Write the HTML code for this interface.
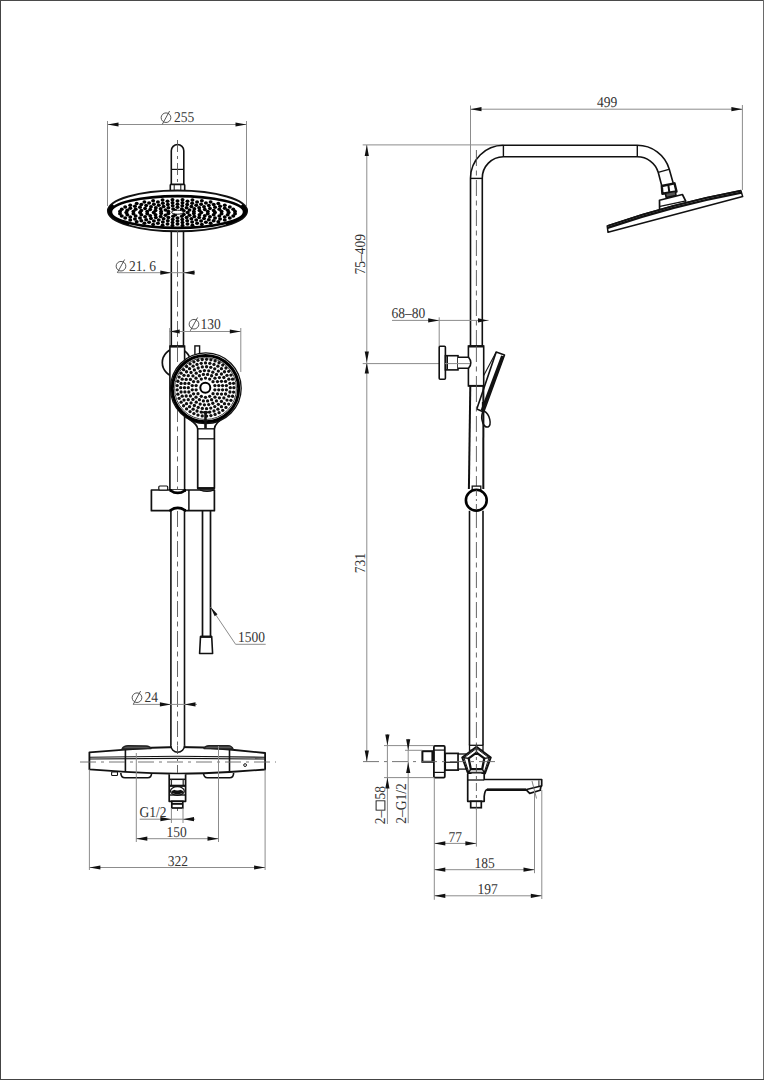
<!DOCTYPE html>
<html><head><meta charset="utf-8"><style>
html,body{margin:0;padding:0;background:#fff;}
body{width:764px;height:1080px;overflow:hidden;}
svg{display:block;}
text{font-family:"Liberation Serif",serif;fill:#333;text-rendering:geometricPrecision;}
</style></head><body>
<svg width="764" height="1080" viewBox="0 0 764 1080">
<rect x="0" y="0" width="1" height="1080" fill="#444"/><rect x="0" y="0" width="764" height="1" fill="#4a4a4a"/><rect x="763" y="0" width="1" height="1080" fill="#6a6a6a"/><rect x="0" y="1079" width="764" height="1" fill="#444"/>
<line x1="107.5" y1="121" x2="107.5" y2="206" stroke="#8c8c8c" stroke-width="1.0" />
<line x1="246.5" y1="121" x2="246.5" y2="206" stroke="#8c8c8c" stroke-width="1.0" />
<line x1="107.5" y1="124.5" x2="246.5" y2="124.5" stroke="#8c8c8c" stroke-width="1.0" />
<path d="M107.50,124.50 L118.50,122.40 L118.50,126.60 Z" fill="#111"/>
<path d="M246.50,124.50 L235.50,126.60 L235.50,122.40 Z" fill="#111"/>
<ellipse cx="166.00" cy="117.70" rx="4.85" ry="4.8" stroke="#444" stroke-width="0.9" fill="none"/>
<line x1="162.3" y1="124.3" x2="169.6" y2="111" stroke="#444" stroke-width="0.9" />
<text x="0" y="0" font-size="15.0" text-anchor="start" transform="translate(174 122) scale(0.9 1)">255</text>
<path d="M171.3,184.4 L171.3,150.8 A6.25,6.25 0 0 1 183.8,150.8 L183.8,184.4" stroke="#111" stroke-width="1.6" fill="none" stroke-linejoin="round" />
<line x1="171.3" y1="169.4" x2="183.8" y2="169.4" stroke="#111" stroke-width="1.2" />
<rect x="170.3" y="184.4" width="14.4" height="6.3" stroke="#111" stroke-width="1.6" fill="none" rx="0.8"/>
<line x1="174.2" y1="184.6" x2="174.2" y2="190.5" stroke="#111" stroke-width="1.0" />
<line x1="180.8" y1="184.6" x2="180.8" y2="190.5" stroke="#111" stroke-width="1.0" />
<line x1="177.5" y1="140" x2="177.5" y2="184" stroke="#555" stroke-width="0.9" stroke-dasharray="12 4 3 4"/>
<ellipse cx="177.5" cy="210.9" rx="69.6" ry="20.4" stroke="#111" stroke-width="1.9" fill="#fff"/>
<path d="M128.43,225.18 L125.72,224.35 L123.19,223.47 L120.83,222.56 L118.65,221.60 L116.66,220.62 L114.86,219.60 L113.27,218.55 L111.88,217.48 L110.71,216.38 L109.75,215.27 L109.00,214.15 L108.48,213.01 L108.18,211.87 L108.10,210.72 L108.25,209.58 L108.62,208.44 L109.21,207.31 L110.02,206.18 L111.04,205.08 L112.29,203.99 L114.92,206.56 L113.73,207.42 L112.74,208.29 L111.96,209.17 L111.40,210.06 L111.04,210.96 L110.90,211.86 L110.98,212.76 L111.26,213.66 L111.77,214.56 L112.48,215.44 L113.40,216.32 L114.53,217.18 L115.86,218.02 L117.39,218.85 L119.11,219.65 L121.02,220.43 L123.11,221.18 L125.38,221.90 L127.81,222.59 L130.41,223.24 Z" fill="#000"/>
<path d="M242.71,203.99 L243.96,205.08 L244.98,206.18 L245.79,207.31 L246.38,208.44 L246.75,209.58 L246.90,210.72 L246.82,211.87 L246.52,213.01 L246.00,214.15 L245.25,215.27 L244.29,216.38 L243.12,217.48 L241.73,218.55 L240.14,219.60 L238.34,220.62 L236.35,221.60 L234.17,222.56 L231.81,223.47 L229.28,224.35 L226.57,225.18 L224.59,223.24 L227.19,222.59 L229.62,221.90 L231.89,221.18 L233.98,220.43 L235.89,219.65 L237.61,218.85 L239.14,218.02 L240.47,217.18 L241.60,216.32 L242.52,215.44 L243.23,214.56 L243.74,213.66 L244.02,212.76 L244.10,211.86 L243.96,210.96 L243.60,210.06 L243.04,209.17 L242.26,208.29 L241.27,207.42 L240.08,206.56 Z" fill="#000"/>
<ellipse cx="177.5" cy="212" rx="66.6" ry="15.9" stroke="#000" stroke-width="2.6" fill="#fff"/>
<g fill="#000"><ellipse cx="187.62" cy="212.60" rx="2.0" ry="1.75"/><ellipse cx="183.81" cy="214.38" rx="2.0" ry="1.75"/><ellipse cx="175.25" cy="214.82" rx="2.0" ry="1.75"/><ellipse cx="168.39" cy="213.59" rx="2.0" ry="1.75"/><ellipse cx="168.39" cy="211.61" rx="2.0" ry="1.75"/><ellipse cx="175.25" cy="210.38" rx="2.0" ry="1.75"/><ellipse cx="183.81" cy="210.82" rx="2.0" ry="1.75"/><ellipse cx="193.88" cy="213.59" rx="2.0" ry="1.75"/><ellipse cx="189.49" cy="215.30" rx="2.0" ry="1.75"/><ellipse cx="181.89" cy="216.29" rx="2.0" ry="1.75"/><ellipse cx="173.11" cy="216.29" rx="2.0" ry="1.75"/><ellipse cx="165.51" cy="215.30" rx="2.0" ry="1.75"/><ellipse cx="161.12" cy="213.59" rx="2.0" ry="1.75"/><ellipse cx="161.12" cy="211.61" rx="2.0" ry="1.75"/><ellipse cx="165.51" cy="209.90" rx="2.0" ry="1.75"/><ellipse cx="173.11" cy="208.91" rx="2.0" ry="1.75"/><ellipse cx="181.89" cy="208.91" rx="2.0" ry="1.75"/><ellipse cx="189.49" cy="209.90" rx="2.0" ry="1.75"/><ellipse cx="193.88" cy="211.61" rx="2.0" ry="1.75"/><ellipse cx="201.30" cy="212.60" rx="2.0" ry="1.75"/><ellipse cx="199.49" cy="214.65" rx="2.0" ry="1.75"/><ellipse cx="194.33" cy="216.39" rx="2.0" ry="1.75"/><ellipse cx="186.61" cy="217.55" rx="2.0" ry="1.75"/><ellipse cx="177.50" cy="217.96" rx="2.0" ry="1.75"/><ellipse cx="168.39" cy="217.55" rx="2.0" ry="1.75"/><ellipse cx="160.67" cy="216.39" rx="2.0" ry="1.75"/><ellipse cx="155.51" cy="214.65" rx="2.0" ry="1.75"/><ellipse cx="153.70" cy="212.60" rx="2.0" ry="1.75"/><ellipse cx="155.51" cy="210.55" rx="2.0" ry="1.75"/><ellipse cx="160.67" cy="208.81" rx="2.0" ry="1.75"/><ellipse cx="168.39" cy="207.65" rx="2.0" ry="1.75"/><ellipse cx="177.50" cy="207.24" rx="2.0" ry="1.75"/><ellipse cx="186.61" cy="207.65" rx="2.0" ry="1.75"/><ellipse cx="194.33" cy="208.81" rx="2.0" ry="1.75"/><ellipse cx="199.49" cy="210.55" rx="2.0" ry="1.75"/><ellipse cx="207.77" cy="213.68" rx="2.0" ry="1.75"/><ellipse cx="204.80" cy="215.73" rx="2.0" ry="1.75"/><ellipse cx="199.17" cy="217.48" rx="2.0" ry="1.75"/><ellipse cx="191.41" cy="218.75" rx="2.0" ry="1.75"/><ellipse cx="182.29" cy="219.42" rx="2.0" ry="1.75"/><ellipse cx="172.71" cy="219.42" rx="2.0" ry="1.75"/><ellipse cx="163.59" cy="218.75" rx="2.0" ry="1.75"/><ellipse cx="155.83" cy="217.48" rx="2.0" ry="1.75"/><ellipse cx="150.20" cy="215.73" rx="2.0" ry="1.75"/><ellipse cx="147.23" cy="213.68" rx="2.0" ry="1.75"/><ellipse cx="147.23" cy="211.52" rx="2.0" ry="1.75"/><ellipse cx="150.20" cy="209.47" rx="2.0" ry="1.75"/><ellipse cx="155.83" cy="207.72" rx="2.0" ry="1.75"/><ellipse cx="163.59" cy="206.45" rx="2.0" ry="1.75"/><ellipse cx="172.71" cy="205.78" rx="2.0" ry="1.75"/><ellipse cx="182.29" cy="205.78" rx="2.0" ry="1.75"/><ellipse cx="191.41" cy="206.45" rx="2.0" ry="1.75"/><ellipse cx="199.17" cy="207.72" rx="2.0" ry="1.75"/><ellipse cx="204.80" cy="209.47" rx="2.0" ry="1.75"/><ellipse cx="207.77" cy="211.52" rx="2.0" ry="1.75"/><ellipse cx="214.99" cy="212.60" rx="2.0" ry="1.75"/><ellipse cx="213.71" cy="214.78" rx="2.0" ry="1.75"/><ellipse cx="209.96" cy="216.82" rx="2.0" ry="1.75"/><ellipse cx="204.01" cy="218.57" rx="2.0" ry="1.75"/><ellipse cx="196.24" cy="219.91" rx="2.0" ry="1.75"/><ellipse cx="187.20" cy="220.75" rx="2.0" ry="1.75"/><ellipse cx="177.50" cy="221.04" rx="2.0" ry="1.75"/><ellipse cx="167.80" cy="220.75" rx="2.0" ry="1.75"/><ellipse cx="158.76" cy="219.91" rx="2.0" ry="1.75"/><ellipse cx="150.99" cy="218.57" rx="2.0" ry="1.75"/><ellipse cx="145.04" cy="216.82" rx="2.0" ry="1.75"/><ellipse cx="141.29" cy="214.78" rx="2.0" ry="1.75"/><ellipse cx="140.01" cy="212.60" rx="2.0" ry="1.75"/><ellipse cx="141.29" cy="210.42" rx="2.0" ry="1.75"/><ellipse cx="145.04" cy="208.38" rx="2.0" ry="1.75"/><ellipse cx="150.99" cy="206.63" rx="2.0" ry="1.75"/><ellipse cx="158.76" cy="205.29" rx="2.0" ry="1.75"/><ellipse cx="167.80" cy="204.45" rx="2.0" ry="1.75"/><ellipse cx="177.50" cy="204.16" rx="2.0" ry="1.75"/><ellipse cx="187.20" cy="204.45" rx="2.0" ry="1.75"/><ellipse cx="196.24" cy="205.29" rx="2.0" ry="1.75"/><ellipse cx="204.01" cy="206.63" rx="2.0" ry="1.75"/><ellipse cx="209.96" cy="208.38" rx="2.0" ry="1.75"/><ellipse cx="213.71" cy="210.42" rx="2.0" ry="1.75"/><ellipse cx="221.55" cy="213.72" rx="2.0" ry="1.75"/><ellipse cx="219.34" cy="215.90" rx="2.0" ry="1.75"/><ellipse cx="215.03" cy="217.91" rx="2.0" ry="1.75"/><ellipse cx="208.84" cy="219.66" rx="2.0" ry="1.75"/><ellipse cx="201.08" cy="221.05" rx="2.0" ry="1.75"/><ellipse cx="192.14" cy="222.02" rx="2.0" ry="1.75"/><ellipse cx="182.46" cy="222.52" rx="2.0" ry="1.75"/><ellipse cx="172.54" cy="222.52" rx="2.0" ry="1.75"/><ellipse cx="162.86" cy="222.02" rx="2.0" ry="1.75"/><ellipse cx="153.92" cy="221.05" rx="2.0" ry="1.75"/><ellipse cx="146.16" cy="219.66" rx="2.0" ry="1.75"/><ellipse cx="139.97" cy="217.91" rx="2.0" ry="1.75"/><ellipse cx="135.66" cy="215.90" rx="2.0" ry="1.75"/><ellipse cx="133.45" cy="213.72" rx="2.0" ry="1.75"/><ellipse cx="133.45" cy="211.48" rx="2.0" ry="1.75"/><ellipse cx="135.66" cy="209.30" rx="2.0" ry="1.75"/><ellipse cx="139.97" cy="207.29" rx="2.0" ry="1.75"/><ellipse cx="146.16" cy="205.54" rx="2.0" ry="1.75"/><ellipse cx="153.92" cy="204.15" rx="2.0" ry="1.75"/><ellipse cx="162.86" cy="203.18" rx="2.0" ry="1.75"/><ellipse cx="172.54" cy="202.68" rx="2.0" ry="1.75"/><ellipse cx="182.46" cy="202.68" rx="2.0" ry="1.75"/><ellipse cx="192.14" cy="203.18" rx="2.0" ry="1.75"/><ellipse cx="201.08" cy="204.15" rx="2.0" ry="1.75"/><ellipse cx="208.84" cy="205.54" rx="2.0" ry="1.75"/><ellipse cx="215.03" cy="207.29" rx="2.0" ry="1.75"/><ellipse cx="219.34" cy="209.30" rx="2.0" ry="1.75"/><ellipse cx="221.55" cy="211.48" rx="2.0" ry="1.75"/><ellipse cx="228.67" cy="212.60" rx="2.0" ry="1.75"/><ellipse cx="227.69" cy="214.85" rx="2.0" ry="1.75"/><ellipse cx="224.77" cy="217.01" rx="2.0" ry="1.75"/><ellipse cx="220.05" cy="219.00" rx="2.0" ry="1.75"/><ellipse cx="213.68" cy="220.75" rx="2.0" ry="1.75"/><ellipse cx="205.93" cy="222.18" rx="2.0" ry="1.75"/><ellipse cx="197.08" cy="223.25" rx="2.0" ry="1.75"/><ellipse cx="187.48" cy="223.90" rx="2.0" ry="1.75"/><ellipse cx="177.50" cy="224.12" rx="2.0" ry="1.75"/><ellipse cx="167.52" cy="223.90" rx="2.0" ry="1.75"/><ellipse cx="157.92" cy="223.25" rx="2.0" ry="1.75"/><ellipse cx="149.07" cy="222.18" rx="2.0" ry="1.75"/><ellipse cx="141.32" cy="220.75" rx="2.0" ry="1.75"/><ellipse cx="134.95" cy="219.00" rx="2.0" ry="1.75"/><ellipse cx="130.23" cy="217.01" rx="2.0" ry="1.75"/><ellipse cx="127.31" cy="214.85" rx="2.0" ry="1.75"/><ellipse cx="126.33" cy="212.60" rx="2.0" ry="1.75"/><ellipse cx="127.31" cy="210.35" rx="2.0" ry="1.75"/><ellipse cx="130.23" cy="208.19" rx="2.0" ry="1.75"/><ellipse cx="134.95" cy="206.20" rx="2.0" ry="1.75"/><ellipse cx="141.32" cy="204.45" rx="2.0" ry="1.75"/><ellipse cx="149.07" cy="203.02" rx="2.0" ry="1.75"/><ellipse cx="157.92" cy="201.95" rx="2.0" ry="1.75"/><ellipse cx="167.52" cy="201.30" rx="2.0" ry="1.75"/><ellipse cx="177.50" cy="201.08" rx="2.0" ry="1.75"/><ellipse cx="187.48" cy="201.30" rx="2.0" ry="1.75"/><ellipse cx="197.08" cy="201.95" rx="2.0" ry="1.75"/><ellipse cx="205.93" cy="203.02" rx="2.0" ry="1.75"/><ellipse cx="213.68" cy="204.45" rx="2.0" ry="1.75"/><ellipse cx="220.05" cy="206.20" rx="2.0" ry="1.75"/><ellipse cx="224.77" cy="208.19" rx="2.0" ry="1.75"/><ellipse cx="227.69" cy="210.35" rx="2.0" ry="1.75"/><ellipse cx="235.00" cy="213.73" rx="2.0" ry="1.75"/><ellipse cx="233.25" cy="215.96" rx="2.0" ry="1.75"/><ellipse cx="229.81" cy="218.09" rx="2.0" ry="1.75"/><ellipse cx="224.78" cy="220.06" rx="2.0" ry="1.75"/><ellipse cx="218.31" cy="221.79" rx="2.0" ry="1.75"/><ellipse cx="210.60" cy="223.25" rx="2.0" ry="1.75"/><ellipse cx="201.89" cy="224.38" rx="2.0" ry="1.75"/><ellipse cx="192.44" cy="225.16" rx="2.0" ry="1.75"/><ellipse cx="182.53" cy="225.55" rx="2.0" ry="1.75"/><ellipse cx="172.47" cy="225.55" rx="2.0" ry="1.75"/><ellipse cx="162.56" cy="225.16" rx="2.0" ry="1.75"/><ellipse cx="153.11" cy="224.38" rx="2.0" ry="1.75"/><ellipse cx="144.40" cy="223.25" rx="2.0" ry="1.75"/><ellipse cx="136.69" cy="221.79" rx="2.0" ry="1.75"/><ellipse cx="130.22" cy="220.06" rx="2.0" ry="1.75"/><ellipse cx="125.19" cy="218.09" rx="2.0" ry="1.75"/><ellipse cx="121.75" cy="215.96" rx="2.0" ry="1.75"/><ellipse cx="120.00" cy="213.73" rx="2.0" ry="1.75"/><ellipse cx="120.00" cy="211.47" rx="2.0" ry="1.75"/><ellipse cx="121.75" cy="209.24" rx="2.0" ry="1.75"/><ellipse cx="125.19" cy="207.11" rx="2.0" ry="1.75"/><ellipse cx="130.22" cy="205.14" rx="2.0" ry="1.75"/><ellipse cx="136.69" cy="203.41" rx="2.0" ry="1.75"/><ellipse cx="144.40" cy="201.95" rx="2.0" ry="1.75"/><ellipse cx="153.11" cy="200.82" rx="2.0" ry="1.75"/><ellipse cx="162.56" cy="200.04" rx="2.0" ry="1.75"/><ellipse cx="172.47" cy="199.65" rx="2.0" ry="1.75"/><ellipse cx="182.53" cy="199.65" rx="2.0" ry="1.75"/><ellipse cx="192.44" cy="200.04" rx="2.0" ry="1.75"/><ellipse cx="201.89" cy="200.82" rx="2.0" ry="1.75"/><ellipse cx="210.60" cy="201.95" rx="2.0" ry="1.75"/><ellipse cx="218.31" cy="203.41" rx="2.0" ry="1.75"/><ellipse cx="224.78" cy="205.14" rx="2.0" ry="1.75"/><ellipse cx="229.81" cy="207.11" rx="2.0" ry="1.75"/><ellipse cx="233.25" cy="209.24" rx="2.0" ry="1.75"/><ellipse cx="235.00" cy="211.47" rx="2.0" ry="1.75"/></g>
<ellipse cx="177.5" cy="212.2" rx="6" ry="2" stroke="#111" stroke-width="1" fill="#fff"/>
<line x1="171.3" y1="231" x2="171.3" y2="346.2" stroke="#111" stroke-width="1.6" />
<line x1="183.5" y1="231" x2="183.5" y2="346.2" stroke="#111" stroke-width="1.6" />
<line x1="177.5" y1="231" x2="177.5" y2="346" stroke="#555" stroke-width="0.9" stroke-dasharray="16 4.5 5 4.5"/>
<line x1="117.9" y1="272.7" x2="195" y2="272.7" stroke="#8c8c8c" stroke-width="1.0" />
<path d="M171.30,272.70 L160.30,274.80 L160.30,270.60 Z" fill="#111"/>
<path d="M183.50,272.70 L194.50,270.60 L194.50,274.80 Z" fill="#111"/>
<ellipse cx="121.00" cy="266.20" rx="4.85" ry="4.8" stroke="#444" stroke-width="0.9" fill="none"/>
<line x1="117.3" y1="272.8" x2="124.6" y2="259.5" stroke="#444" stroke-width="0.9" />
<text x="0" y="0" font-size="15.0" text-anchor="start" transform="translate(129 270.5) scale(0.9 1)">21. 6</text>
<line x1="169.7" y1="328" x2="169.7" y2="346.2" stroke="#8c8c8c" stroke-width="1.0" />
<line x1="240.8" y1="328" x2="240.8" y2="372" stroke="#8c8c8c" stroke-width="1.0" />
<line x1="169.7" y1="331.5" x2="240.8" y2="331.5" stroke="#8c8c8c" stroke-width="1.0" />
<path d="M169.70,331.50 L179.70,329.40 L179.70,333.60 Z" fill="#111"/>
<path d="M240.80,331.50 L229.80,333.60 L229.80,329.40 Z" fill="#111"/>
<ellipse cx="194.00" cy="324.20" rx="4.85" ry="4.8" stroke="#444" stroke-width="0.9" fill="none"/>
<line x1="190.3" y1="330.8" x2="197.6" y2="317.5" stroke="#444" stroke-width="0.9" />
<text x="0" y="0" font-size="15.0" text-anchor="start" transform="translate(200.5 328.5) scale(0.9 1)">130</text>
<circle cx="176.5" cy="362.6" r="14.2" stroke="#111" stroke-width="1.7" fill="#fff"/>
<rect x="169.9" y="346.2" width="14.7" height="143.8" stroke="#111" stroke-width="1.6" fill="#fff"/>
<line x1="169.9" y1="346.4" x2="184.6" y2="346.4" stroke="#111" stroke-width="2.4" />
<line x1="177.5" y1="346" x2="177.5" y2="490" stroke="#555" stroke-width="0.9" stroke-dasharray="16 4.5 5 4.5"/>
<rect x="194.9" y="345.9" width="4.7" height="9" stroke="#111" stroke-width="1.4" fill="#fff"/>
<path d="M183,414 C190,421 197.5,423 197.7,429 L197.7,488.3 L214.4,488.3 L214.4,429 C214.6,423 222,419 229,413 Z" stroke="#111" stroke-width="1.7" fill="#fff" stroke-linejoin="round" />
<line x1="197.7" y1="428.8" x2="214.4" y2="428.8" stroke="#111" stroke-width="1.4" />
<line x1="197.7" y1="438.8" x2="214.4" y2="438.8" stroke="#111" stroke-width="1.3" />
<line x1="197.7" y1="488.3" x2="214.4" y2="488.3" stroke="#111" stroke-width="2.4" />
<circle cx="205.8" cy="388.2" r="35.4" stroke="#111" stroke-width="1.3" fill="#fff"/>
<circle cx="205.5" cy="388.59999999999997" r="33.2" stroke="#000" stroke-width="3" fill="#fff"/>
<circle cx="205.5" cy="388.59999999999997" r="30.9" stroke="#111" stroke-width="0.8" fill="none"/>
<g fill="#111"><circle cx="214.86" cy="389.84" r="1.65"/><circle cx="213.01" cy="393.69" r="1.65"/><circle cx="209.67" cy="396.35" r="1.65"/><circle cx="205.50" cy="397.30" r="1.65"/><circle cx="201.33" cy="396.35" r="1.65"/><circle cx="197.99" cy="393.69" r="1.65"/><circle cx="196.14" cy="389.84" r="1.65"/><circle cx="196.14" cy="385.56" r="1.65"/><circle cx="197.99" cy="381.71" r="1.65"/><circle cx="201.33" cy="379.05" r="1.65"/><circle cx="205.50" cy="378.10" r="1.65"/><circle cx="209.67" cy="379.05" r="1.65"/><circle cx="213.01" cy="381.71" r="1.65"/><circle cx="214.86" cy="385.56" r="1.65"/><circle cx="218.74" cy="389.80" r="1.65"/><circle cx="217.44" cy="393.78" r="1.65"/><circle cx="214.98" cy="397.18" r="1.65"/><circle cx="211.58" cy="399.64" r="1.65"/><circle cx="207.60" cy="400.94" r="1.65"/><circle cx="203.40" cy="400.94" r="1.65"/><circle cx="199.42" cy="399.64" r="1.65"/><circle cx="196.02" cy="397.18" r="1.65"/><circle cx="193.56" cy="393.78" r="1.65"/><circle cx="192.26" cy="389.80" r="1.65"/><circle cx="192.26" cy="385.60" r="1.65"/><circle cx="193.56" cy="381.62" r="1.65"/><circle cx="196.02" cy="378.22" r="1.65"/><circle cx="199.42" cy="375.76" r="1.65"/><circle cx="203.40" cy="374.46" r="1.65"/><circle cx="207.60" cy="374.46" r="1.65"/><circle cx="211.58" cy="375.76" r="1.65"/><circle cx="214.98" cy="378.22" r="1.65"/><circle cx="217.44" cy="381.62" r="1.65"/><circle cx="218.74" cy="385.60" r="1.65"/><circle cx="222.56" cy="389.86" r="1.65"/><circle cx="221.49" cy="394.03" r="1.65"/><circle cx="219.42" cy="397.81" r="1.65"/><circle cx="216.46" cy="400.95" r="1.65"/><circle cx="212.82" cy="403.26" r="1.65"/><circle cx="208.72" cy="404.60" r="1.65"/><circle cx="204.42" cy="404.87" r="1.65"/><circle cx="200.18" cy="404.06" r="1.65"/><circle cx="196.28" cy="402.22" r="1.65"/><circle cx="192.96" cy="399.47" r="1.65"/><circle cx="190.43" cy="395.99" r="1.65"/><circle cx="188.84" cy="391.98" r="1.65"/><circle cx="188.30" cy="387.70" r="1.65"/><circle cx="188.84" cy="383.42" r="1.65"/><circle cx="190.43" cy="379.41" r="1.65"/><circle cx="192.96" cy="375.93" r="1.65"/><circle cx="196.28" cy="373.18" r="1.65"/><circle cx="200.18" cy="371.34" r="1.65"/><circle cx="204.42" cy="370.53" r="1.65"/><circle cx="208.72" cy="370.80" r="1.65"/><circle cx="212.82" cy="372.14" r="1.65"/><circle cx="216.46" cy="374.45" r="1.65"/><circle cx="219.42" cy="377.59" r="1.65"/><circle cx="221.49" cy="381.37" r="1.65"/><circle cx="222.56" cy="385.54" r="1.65"/><circle cx="226.39" cy="389.82" r="1.65"/><circle cx="225.54" cy="393.99" r="1.65"/><circle cx="223.86" cy="397.89" r="1.65"/><circle cx="221.43" cy="401.38" r="1.65"/><circle cx="218.35" cy="404.31" r="1.65"/><circle cx="214.75" cy="406.55" r="1.65"/><circle cx="210.76" cy="408.03" r="1.65"/><circle cx="206.56" cy="408.67" r="1.65"/><circle cx="202.32" cy="408.46" r="1.65"/><circle cx="198.21" cy="407.39" r="1.65"/><circle cx="194.39" cy="405.52" r="1.65"/><circle cx="191.03" cy="402.92" r="1.65"/><circle cx="188.26" cy="399.70" r="1.65"/><circle cx="186.20" cy="395.98" r="1.65"/><circle cx="184.93" cy="391.93" r="1.65"/><circle cx="184.50" cy="387.70" r="1.65"/><circle cx="184.93" cy="383.47" r="1.65"/><circle cx="186.20" cy="379.42" r="1.65"/><circle cx="188.26" cy="375.70" r="1.65"/><circle cx="191.03" cy="372.48" r="1.65"/><circle cx="194.39" cy="369.88" r="1.65"/><circle cx="198.21" cy="368.01" r="1.65"/><circle cx="202.32" cy="366.94" r="1.65"/><circle cx="206.56" cy="366.73" r="1.65"/><circle cx="210.76" cy="367.37" r="1.65"/><circle cx="214.75" cy="368.85" r="1.65"/><circle cx="218.35" cy="371.09" r="1.65"/><circle cx="221.43" cy="374.02" r="1.65"/><circle cx="223.86" cy="377.51" r="1.65"/><circle cx="225.54" cy="381.41" r="1.65"/><circle cx="226.39" cy="385.58" r="1.65"/><circle cx="230.30" cy="387.70" r="1.65"/><circle cx="229.92" cy="392.01" r="1.65"/><circle cx="228.80" cy="396.18" r="1.65"/><circle cx="226.98" cy="400.10" r="1.65"/><circle cx="224.50" cy="403.64" r="1.65"/><circle cx="221.44" cy="406.70" r="1.65"/><circle cx="217.90" cy="409.18" r="1.65"/><circle cx="213.98" cy="411.00" r="1.65"/><circle cx="209.81" cy="412.12" r="1.65"/><circle cx="205.50" cy="412.50" r="1.65"/><circle cx="201.19" cy="412.12" r="1.65"/><circle cx="197.02" cy="411.00" r="1.65"/><circle cx="193.10" cy="409.18" r="1.65"/><circle cx="189.56" cy="406.70" r="1.65"/><circle cx="186.50" cy="403.64" r="1.65"/><circle cx="184.02" cy="400.10" r="1.65"/><circle cx="182.20" cy="396.18" r="1.65"/><circle cx="181.08" cy="392.01" r="1.65"/><circle cx="180.70" cy="387.70" r="1.65"/><circle cx="181.08" cy="383.39" r="1.65"/><circle cx="182.20" cy="379.22" r="1.65"/><circle cx="184.02" cy="375.30" r="1.65"/><circle cx="186.50" cy="371.76" r="1.65"/><circle cx="189.56" cy="368.70" r="1.65"/><circle cx="193.10" cy="366.22" r="1.65"/><circle cx="197.02" cy="364.40" r="1.65"/><circle cx="201.19" cy="363.28" r="1.65"/><circle cx="205.50" cy="362.90" r="1.65"/><circle cx="209.81" cy="363.28" r="1.65"/><circle cx="213.98" cy="364.40" r="1.65"/><circle cx="217.90" cy="366.22" r="1.65"/><circle cx="221.44" cy="368.70" r="1.65"/><circle cx="224.50" cy="371.76" r="1.65"/><circle cx="226.98" cy="375.30" r="1.65"/><circle cx="228.80" cy="379.22" r="1.65"/><circle cx="229.92" cy="383.39" r="1.65"/><circle cx="233.90" cy="387.70" r="1.65"/><circle cx="233.57" cy="392.04" r="1.65"/><circle cx="232.58" cy="396.27" r="1.65"/><circle cx="230.95" cy="400.30" r="1.65"/><circle cx="228.73" cy="404.04" r="1.65"/><circle cx="225.96" cy="407.39" r="1.65"/><circle cx="222.72" cy="410.29" r="1.65"/><circle cx="219.07" cy="412.65" r="1.65"/><circle cx="215.10" cy="414.43" r="1.65"/><circle cx="210.91" cy="415.58" r="1.65"/><circle cx="206.59" cy="416.08" r="1.65"/><circle cx="202.24" cy="415.91" r="1.65"/><circle cx="197.97" cy="415.08" r="1.65"/><circle cx="193.88" cy="413.62" r="1.65"/><circle cx="190.06" cy="411.54" r="1.65"/><circle cx="186.60" cy="408.90" r="1.65"/><circle cx="183.59" cy="405.77" r="1.65"/><circle cx="181.09" cy="402.21" r="1.65"/><circle cx="179.16" cy="398.32" r="1.65"/><circle cx="177.85" cy="394.17" r="1.65"/><circle cx="177.18" cy="389.87" r="1.65"/><circle cx="177.18" cy="385.53" r="1.65"/><circle cx="177.85" cy="381.23" r="1.65"/><circle cx="179.16" cy="377.08" r="1.65"/><circle cx="181.09" cy="373.19" r="1.65"/><circle cx="183.59" cy="369.63" r="1.65"/><circle cx="186.60" cy="366.50" r="1.65"/><circle cx="190.06" cy="363.86" r="1.65"/><circle cx="193.88" cy="361.78" r="1.65"/><circle cx="197.97" cy="360.32" r="1.65"/><circle cx="202.24" cy="359.49" r="1.65"/><circle cx="206.59" cy="359.32" r="1.65"/><circle cx="210.91" cy="359.82" r="1.65"/><circle cx="215.10" cy="360.97" r="1.65"/><circle cx="219.07" cy="362.75" r="1.65"/><circle cx="222.72" cy="365.11" r="1.65"/><circle cx="225.96" cy="368.01" r="1.65"/><circle cx="228.73" cy="371.36" r="1.65"/><circle cx="230.95" cy="375.10" r="1.65"/><circle cx="232.58" cy="379.13" r="1.65"/><circle cx="233.57" cy="383.36" r="1.65"/></g>
<circle cx="205.3" cy="387.7" r="5.0" stroke="#000" stroke-width="2.0" fill="#fff"/>
<line x1="205.5" y1="411.5" x2="205.5" y2="428.5" stroke="#111" stroke-width="2.6" />
<line x1="202" y1="412.3" x2="209.8" y2="412.3" stroke="#111" stroke-width="2.0" />
<rect x="151.4" y="490" width="63" height="20.7" fill="#fff"/>
<path d="M171.5,490 L151.4,490 L151.4,510.7 L171.5,510.7 M184,510.7 L214.4,510.7 L214.4,490 L184,490" stroke="#111" stroke-width="1.7" fill="none" stroke-linejoin="round" />
<line x1="188.9" y1="490" x2="188.9" y2="510.7" stroke="#111" stroke-width="1.5" />
<path d="M169.5,490.3 Q170.8,490.3 171.5,491 A7.5,4.2 0 0 0 184,491 Q184.7,490.3 186,490.3" stroke="#000" stroke-width="2.8" fill="none" stroke-linejoin="round" />
<path d="M169.5,510.4 Q170.8,510.4 171.5,509.7 A7.5,4.2 0 0 1 184,509.7 Q184.7,510.4 186,510.4" stroke="#000" stroke-width="2.8" fill="none" stroke-linejoin="round" />
<rect x="158.8" y="486" width="8.9" height="4" stroke="#111" stroke-width="1.2" fill="#fff" rx="1"/>
<path d="M200,490 Q207,493 214,490" stroke="#111" stroke-width="1.2" fill="none" stroke-linejoin="round" />
<line x1="202.5" y1="511" x2="202.5" y2="636.5" stroke="#111" stroke-width="1.7" />
<line x1="210.5" y1="511" x2="210.5" y2="636.5" stroke="#111" stroke-width="1.7" />
<path d="M200.5,636.5 L211.7,636.5 L212.6,653.5 L199.6,653.5 Z" stroke="#111" stroke-width="1.6" fill="#fff" stroke-linejoin="round" />
<line x1="200.5" y1="636.8" x2="211.7" y2="636.8" stroke="#111" stroke-width="2.2" />
<line x1="210.5" y1="607" x2="235.6" y2="644.3" stroke="#8c8c8c" stroke-width="1.0" />
<line x1="235.6" y1="644.3" x2="265.7" y2="644.3" stroke="#8c8c8c" stroke-width="1.0" />
<path d="M210.50,607.00 L217.49,614.35 L214.67,616.25 Z" fill="#111"/>
<text x="0" y="0" font-size="15.0" text-anchor="start" transform="translate(238.1 641.7) scale(0.9 1)">1500</text>
<line x1="170.9" y1="510.7" x2="170.9" y2="746" stroke="#111" stroke-width="1.6" />
<line x1="184.5" y1="510.7" x2="184.5" y2="746" stroke="#111" stroke-width="1.6" />
<line x1="177.5" y1="511" x2="177.5" y2="760" stroke="#555" stroke-width="0.9" stroke-dasharray="16 4.5 5 4.5"/>
<line x1="133" y1="704.4" x2="197" y2="704.4" stroke="#8c8c8c" stroke-width="1.0" />
<path d="M170.90,704.40 L159.90,706.50 L159.90,702.30 Z" fill="#111"/>
<path d="M184.50,704.40 L195.50,702.30 L195.50,706.50 Z" fill="#111"/>
<ellipse cx="137.00" cy="697.70" rx="4.85" ry="4.8" stroke="#444" stroke-width="0.9" fill="none"/>
<line x1="133.3" y1="704.3" x2="140.6" y2="691" stroke="#444" stroke-width="0.9" />
<text x="0" y="0" font-size="15.0" text-anchor="start" transform="translate(144.5 702) scale(0.9 1)">24</text>
<path d="M89.4,752.3 L125.4,749.6 Q177.5,744.5 229.5,749.5 L265.1,753 L265.1,769.5 L229.5,772 Q177.5,775.5 125.4,771.9 L89.4,769.3 Z" stroke="#111" stroke-width="1.8" fill="#fff" stroke-linejoin="round" />
<line x1="125.4" y1="749.6" x2="125.4" y2="771.9" stroke="#111" stroke-width="1.6" />
<line x1="229.5" y1="749.5" x2="229.5" y2="772" stroke="#111" stroke-width="1.6" />
<path d="M89.6,757.2 L177.5,756.3 L265,757.2" stroke="#111" stroke-width="1.1" fill="none" stroke-linejoin="round" />
<path d="M89.6,759 L177.5,758.4 L265,759" stroke="#111" stroke-width="1.1" fill="none" stroke-linejoin="round" />
<path d="M122,749 Q123.5,745.8 128,745.8 L146,746 Q150,746.3 151,748.6 Z" stroke="#222" stroke-width="1.4" fill="#555" stroke-linejoin="round" />
<path d="M204,748.6 Q205,746 209,745.8 L228,745.6 Q232,745.9 233,749 Z" stroke="#222" stroke-width="1.4" fill="#555" stroke-linejoin="round" />
<path d="M120.8,773 Q121,777.8 125,777.8 L147.6,777.8 Q151.6,777.8 151.6,773" stroke="#111" stroke-width="1.6" fill="none" stroke-linejoin="round" />
<path d="M203.5,773 Q203.7,777.7 207.5,777.7 L229.6,777.7 Q233.6,777.7 233.6,773" stroke="#111" stroke-width="1.6" fill="none" stroke-linejoin="round" />
<rect x="111.6" y="772" width="5.9" height="3.5" stroke="#111" stroke-width="1.1" fill="#fff" rx="0.8"/>
<circle cx="245.1" cy="765.1" r="1.4" stroke="#111" stroke-width="1" fill="none"/>
<path d="M170.9,745.5 A6.8,6.8 0 0 0 184.5,745.5" stroke="#111" stroke-width="1.6" fill="#fff" stroke-linejoin="round" />
<line x1="80" y1="762" x2="276" y2="762" stroke="#666" stroke-width="0.9" stroke-dasharray="16 5 3 5"/>
<line x1="177.5" y1="746" x2="177.5" y2="812" stroke="#555" stroke-width="0.9" stroke-dasharray="8 4 3 4"/>
<path d="M169.2,774.3 L169.2,801.3 L185.6,801.3 L185.6,774.3" stroke="#111" stroke-width="1.7" fill="#fff" stroke-linejoin="round" />
<line x1="169.2" y1="779.3" x2="185.6" y2="779.3" stroke="#111" stroke-width="1.5" />
<path d="M171.4,779.5 L171.4,786 M183.2,779.5 L183.2,786" stroke="#333" stroke-width="1.3" fill="none" stroke-linejoin="round" />
<line x1="169.2" y1="785.8" x2="185.6" y2="785.8" stroke="#111" stroke-width="2.2" />
<ellipse cx="177.4" cy="791" rx="6.9" ry="4.3" stroke="#111" stroke-width="1.2" fill="#fff"/>
<ellipse cx="177.4" cy="791.8" rx="6" ry="2.3" fill="#111"/>
<ellipse cx="177.4" cy="789.6" rx="2.8" ry="1" fill="#fff"/>
<line x1="169.2" y1="795" x2="185.6" y2="795" stroke="#111" stroke-width="1.4" />
<rect x="171.8" y="801.3" width="11" height="6.7" stroke="#111" stroke-width="1.7" fill="#fff"/>
<line x1="171.8" y1="803.9" x2="182.8" y2="803.9" stroke="#111" stroke-width="1.8" />
<line x1="89.4" y1="769.5" x2="89.4" y2="870" stroke="#8c8c8c" stroke-width="1.0" />
<line x1="265.1" y1="769.5" x2="265.1" y2="870" stroke="#8c8c8c" stroke-width="1.0" />
<line x1="136.3" y1="753" x2="136.3" y2="842" stroke="#8c8c8c" stroke-width="1.0" />
<line x1="218.5" y1="746" x2="218.5" y2="842" stroke="#8c8c8c" stroke-width="1.0" />
<line x1="171.4" y1="808" x2="171.4" y2="823" stroke="#8c8c8c" stroke-width="1.0" />
<line x1="183" y1="808" x2="183" y2="823" stroke="#8c8c8c" stroke-width="1.0" />
<line x1="139.7" y1="819.2" x2="195.2" y2="819.2" stroke="#8c8c8c" stroke-width="1.0" />
<path d="M171.40,819.20 L160.40,821.30 L160.40,817.10 Z" fill="#111"/>
<path d="M183.00,819.20 L194.00,817.10 L194.00,821.30 Z" fill="#111"/>
<text x="0" y="0" font-size="15.0" text-anchor="start" transform="translate(139.5 817) scale(0.9 1)">G1/2</text>
<line x1="136.3" y1="838.7" x2="218.5" y2="838.7" stroke="#8c8c8c" stroke-width="1.0" />
<path d="M136.30,838.70 L147.30,836.60 L147.30,840.80 Z" fill="#111"/>
<path d="M218.50,838.70 L207.50,840.80 L207.50,836.60 Z" fill="#111"/>
<text x="0" y="0" font-size="15.0" text-anchor="start" transform="translate(166.5 836.9) scale(0.9 1)">150</text>
<line x1="89.4" y1="867.5" x2="265.1" y2="867.5" stroke="#8c8c8c" stroke-width="1.0" />
<path d="M89.40,867.50 L100.40,865.40 L100.40,869.60 Z" fill="#111"/>
<path d="M265.10,867.50 L254.10,869.60 L254.10,865.40 Z" fill="#111"/>
<text x="0" y="0" font-size="15.0" text-anchor="start" transform="translate(167.7 865.8) scale(0.9 1)">322</text>
<line x1="470.5" y1="105.5" x2="470.5" y2="178" stroke="#8c8c8c" stroke-width="1.0" />
<line x1="742.4" y1="105" x2="742.4" y2="190" stroke="#8c8c8c" stroke-width="1.0" />
<line x1="470.5" y1="109.2" x2="742.4" y2="109.2" stroke="#8c8c8c" stroke-width="1.0" />
<path d="M470.50,109.20 L481.50,107.10 L481.50,111.30 Z" fill="#111"/>
<path d="M742.40,109.20 L731.40,111.30 L731.40,107.10 Z" fill="#111"/>
<text x="0" y="0" font-size="15.0" text-anchor="start" transform="translate(596.9 107.1) scale(0.9 1)">499</text>
<line x1="362.7" y1="144.9" x2="503.4" y2="144.9" stroke="#8c8c8c" stroke-width="1.0" />
<path d="M470.5,346.1 L470.5,178.3 A33,33 0 0 1 503.4,145.3 L637.3,145.3 A33.3,33.3 0 0 1 669.2,169.0 L673.3,183.5" stroke="#111" stroke-width="1.6" fill="none" stroke-linejoin="round" />
<path d="M482.3,346.1 L482.3,178.3 A21.2,21.2 0 0 1 503.4,156.8 L637.3,156.8 A21.8,21.8 0 0 1 658.2,172.3 L661.8,186" stroke="#111" stroke-width="1.6" fill="none" stroke-linejoin="round" />
<line x1="470.5" y1="178.4" x2="482.3" y2="178.4" stroke="#111" stroke-width="1.4" />
<line x1="503.4" y1="145.3" x2="503.4" y2="156.8" stroke="#111" stroke-width="1.4" />
<line x1="637.3" y1="145.3" x2="637.3" y2="156.8" stroke="#111" stroke-width="1.4" />
<line x1="658.2" y1="172.3" x2="668.9" y2="169.3" stroke="#111" stroke-width="1.3" />
<path d="M661.8,186 L674.5,183.3 L676.5,191.5 L662.4,193.8 Z" stroke="#111" stroke-width="2.4" fill="#fff" stroke-linejoin="round" />
<line x1="668.3" y1="184.8" x2="669.4" y2="192.6" stroke="#111" stroke-width="2.0" />
<path d="M665.5,194 L666.2,197.5 L676,195.5 L675.5,192" stroke="#111" stroke-width="1.6" fill="#555" stroke-linejoin="round" />
<path d="M659.6,209 L659.5,200.3 L682.4,194.5 L686,201.6" stroke="#111" stroke-width="1.7" fill="#fff" stroke-linejoin="round" />
<line x1="660" y1="206.4" x2="686" y2="200.8" stroke="#111" stroke-width="1.2" />
<path d="M607.2,225.9 Q674,203.3 740.9,190.6 L742.7,196.6 L608,232.2 Z" stroke="#111" stroke-width="1.5" fill="#fff" stroke-linejoin="round" />
<path d="M607.6,227.8 Q674,205.3 741.4,192.6" stroke="#111" stroke-width="2.4" fill="none" stroke-linejoin="round" />
<path d="M608,225.8 Q674,203.2 740.5,190.9" stroke="#111" stroke-width="1.6" fill="none" stroke-linejoin="round" />
<line x1="476.4" y1="150" x2="476.4" y2="346" stroke="#555" stroke-width="0.9" stroke-dasharray="16 4.5 5 4.5"/>
<line x1="366.8" y1="145" x2="366.8" y2="761.6" stroke="#8c8c8c" stroke-width="1.0" />
<path d="M366.80,145.00 L368.90,156.00 L364.70,156.00 Z" fill="#111"/>
<path d="M366.80,362.60 L364.70,351.60 L368.90,351.60 Z" fill="#111"/>
<path d="M366.80,362.60 L368.90,373.60 L364.70,373.60 Z" fill="#111"/>
<path d="M366.80,761.60 L364.70,750.60 L368.90,750.60 Z" fill="#111"/>
<line x1="362.7" y1="363.6" x2="470" y2="363.6" stroke="#8c8c8c" stroke-width="1.0" />
<text x="0" y="0" font-size="15.0" text-anchor="middle" transform="translate(364.8 254.3) rotate(-90) scale(0.9 1)">75–409</text>
<text x="0" y="0" font-size="15.0" text-anchor="middle" transform="translate(364.9 563.2) rotate(-90) scale(0.9 1)">731</text>
<line x1="392" y1="320.4" x2="488.6" y2="320.4" stroke="#8c8c8c" stroke-width="1.0" />
<path d="M439.20,320.40 L428.20,322.50 L428.20,318.30 Z" fill="#111"/>
<path d="M488.00,320.40 L478.00,322.50 L478.00,318.30 Z" fill="#111"/>
<line x1="439.2" y1="317.3" x2="439.2" y2="346.3" stroke="#8c8c8c" stroke-width="1.0" />
<text x="0" y="0" font-size="15.0" text-anchor="start" transform="translate(391.6 318) scale(0.9 1)">68–80</text>
<path d="M496.2,352.1 L504.5,354.9 L483.7,411.9 L476.8,409.1 Z" stroke="#111" stroke-width="1.6" fill="#fff" stroke-linejoin="round" />
<path d="M502.6,356 L482.2,410.5" stroke="#111" stroke-width="3.2" fill="none" stroke-linejoin="round" />
<path d="M483.7,375.5 L496.2,352.1" stroke="#111" stroke-width="1.1" fill="none" stroke-linejoin="round" />
<path d="M482.6,402 L482.6,412 C480,420 484,428 488,427 C492,425 490,414 484,411" stroke="#111" stroke-width="1.5" fill="none" stroke-linejoin="round" />
<rect x="468.4" y="346.1" width="15.3" height="39.8" stroke="#111" stroke-width="1.6" fill="#fff"/>
<line x1="468.4" y1="346.3" x2="483.7" y2="346.3" stroke="#111" stroke-width="2.4" />
<line x1="468.4" y1="385.8" x2="483.7" y2="385.8" stroke="#111" stroke-width="1.8" />
<line x1="476.4" y1="346" x2="476.4" y2="386" stroke="#555" stroke-width="0.9" stroke-dasharray="16 4.5 5 4.5"/>
<rect x="439.2" y="346.3" width="6.2" height="33" stroke="#111" stroke-width="1.6" fill="#fff" rx="1"/>
<rect x="445.4" y="355.7" width="12.6" height="14.2" stroke="#111" stroke-width="1.6" fill="#fff"/>
<line x1="447.2" y1="356" x2="447.2" y2="369.6" stroke="#111" stroke-width="1.6" />
<path d="M458,357.2 L468.5,357.2 Q471,360 470.8,362.8 Q471,365.6 468.5,368.3 L458,368.3" stroke="#111" stroke-width="1.6" fill="#fff" stroke-linejoin="round" />
<line x1="445" y1="363.6" x2="470" y2="363.6" stroke="#8c8c8c" stroke-width="1.0" />
<line x1="470.3" y1="386" x2="468.9" y2="488.9" stroke="#111" stroke-width="2.0" />
<line x1="483.4" y1="386" x2="483.3" y2="488.9" stroke="#111" stroke-width="2.0" />
<line x1="476.4" y1="386" x2="476.4" y2="490" stroke="#555" stroke-width="0.9" stroke-dasharray="16 4.5 5 4.5"/>
<rect x="472.2" y="486.1" width="8.6" height="4.5" stroke="#111" stroke-width="1.3" fill="#fff"/>
<circle cx="476.3" cy="500.2" r="10.4" stroke="#000" stroke-width="2.6" fill="#fff"/>
<line x1="476.4" y1="490" x2="476.4" y2="512" stroke="#555" stroke-width="0.9" stroke-dasharray="6 3 2 3"/>
<line x1="469.5" y1="510.8" x2="469.5" y2="745.3" stroke="#111" stroke-width="1.6" />
<line x1="483" y1="510.8" x2="483" y2="745.3" stroke="#111" stroke-width="1.6" />
<line x1="476.4" y1="512" x2="476.4" y2="745" stroke="#555" stroke-width="0.9" stroke-dasharray="16 4.5 5 4.5"/>
<rect x="445.2" y="753.4" width="13" height="16.7" stroke="#111" stroke-width="1.7" fill="#fff"/>
<rect x="458.2" y="754" width="7.5" height="15.1" stroke="#111" stroke-width="1.3" fill="#fff"/>
<line x1="445.2" y1="762.3" x2="458.2" y2="762.3" stroke="#333" stroke-width="1.4" />
<rect x="469.5" y="745.3" width="13.5" height="5" stroke="#111" stroke-width="1.3" fill="#fff"/>
<path d="M476.50,746.80 L490.80,757.50 L485.00,773.50 L468.00,773.50 L462.20,757.50 Z" stroke="#111" stroke-width="1.9" fill="#fff" stroke-linejoin="round" />
<path d="M476.50,748.42 L488.98,757.75 L484.22,772.27 L468.78,772.27 L464.02,757.75 Z" stroke="#111" stroke-width="1.0" fill="none" stroke-linejoin="round" />
<path d="M476.50,752.60 L484.30,758.40 L482.20,769.10 L470.80,769.10 L468.70,758.40 Z" stroke="#111" stroke-width="2.3" fill="none" stroke-linejoin="round" />
<line x1="476.5" y1="746.8" x2="476.5" y2="752.6" stroke="#111" stroke-width="1.4" />
<line x1="490.8" y1="757.5" x2="484.3" y2="758.4" stroke="#111" stroke-width="1.4" />
<line x1="485.0" y1="773.5" x2="482.2" y2="769.1" stroke="#111" stroke-width="1.4" />
<line x1="468.0" y1="773.5" x2="470.8" y2="769.1" stroke="#111" stroke-width="1.4" />
<line x1="462.2" y1="757.5" x2="468.7" y2="758.4" stroke="#111" stroke-width="1.4" />
<path d="M471,773.5 L472,776.2 L481,776.2 L482,773.5" stroke="#111" stroke-width="1.3" fill="#fff" stroke-linejoin="round" />
<rect x="433.9" y="745.9" width="10.9" height="31.7" stroke="#111" stroke-width="1.8" fill="#fff" rx="1"/>
<line x1="433.9" y1="750.1" x2="444.8" y2="750.1" stroke="#111" stroke-width="1.2" />
<line x1="433.9" y1="772.4" x2="444.8" y2="772.4" stroke="#111" stroke-width="1.2" />
<rect x="422.4" y="751.2" width="10" height="10.6" stroke="#111" stroke-width="2.0" fill="#fff"/>
<line x1="433.2" y1="751.5" x2="433.2" y2="761.5" stroke="#111" stroke-width="2.4" />
<path d="M467.7,774 L467.7,801.3 L484.2,801.3 L484.2,796.4 Q484.8,790 487,789.6 L526,789.6 L529.7,793.4 L540.2,790.3 L540.8,787 L541.7,785.8 L541.7,779.5 L484.2,779.5 L484.2,774" stroke="#111" stroke-width="1.7" fill="#fff" stroke-linejoin="round" />
<line x1="467.7" y1="780" x2="484.2" y2="780" stroke="#111" stroke-width="1.3" />
<line x1="487" y1="789.8" x2="526" y2="789.8" stroke="#111" stroke-width="2.6" />
<line x1="538.9" y1="780.3" x2="538.9" y2="786.6" stroke="#444" stroke-width="1.2" />
<path d="M526.5,789.5 L541,786" stroke="#111" stroke-width="1.4" fill="none" stroke-linejoin="round" />
<rect x="470.7" y="801.3" width="10.6" height="6.4" stroke="#111" stroke-width="1.7" fill="#fff"/>
<line x1="363" y1="761.6" x2="497" y2="761.6" stroke="#666" stroke-width="0.9" stroke-dasharray="16 5 3 5"/>
<line x1="476.4" y1="745" x2="476.4" y2="812" stroke="#555" stroke-width="0.9" stroke-dasharray="8 4 3 4"/>
<line x1="532" y1="781" x2="536.5" y2="798.5" stroke="#666" stroke-width="0.8" />
<line x1="384" y1="745.6" x2="434" y2="745.6" stroke="#8c8c8c" stroke-width="1.0" />
<line x1="384" y1="777.6" x2="434" y2="777.6" stroke="#8c8c8c" stroke-width="1.0" />
<line x1="405" y1="750.3" x2="422.4" y2="750.3" stroke="#8c8c8c" stroke-width="1.0" />
<line x1="387.4" y1="734.2" x2="387.4" y2="824" stroke="#8c8c8c" stroke-width="1.0" />
<line x1="408.2" y1="738.9" x2="408.2" y2="823.2" stroke="#8c8c8c" stroke-width="1.0" />
<path d="M387.40,745.60 L385.30,734.60 L389.50,734.60 Z" fill="#111"/>
<path d="M387.40,777.60 L389.50,788.60 L385.30,788.60 Z" fill="#111"/>
<path d="M408.20,750.30 L406.10,739.30 L410.30,739.30 Z" fill="#111"/>
<path d="M408.20,762.00 L410.30,773.00 L406.10,773.00 Z" fill="#111"/>
<g transform="translate(385.1 824.2) rotate(-90) scale(0.90 1)"><text x="0" y="0" font-size="15.0">2–</text><rect x="15.6" y="-9" width="10.4" height="8.8" stroke="#222" stroke-width="1" fill="none"/><text x="27.4" y="0" font-size="15.0">58</text></g>
<g transform="translate(406 823.7) rotate(-90) scale(0.90 1)"><text x="0" y="0" font-size="15.0">2–G1/2</text></g>
<line x1="434.3" y1="777.6" x2="434.3" y2="899.8" stroke="#8c8c8c" stroke-width="1.0" />
<line x1="476.4" y1="808" x2="476.4" y2="846.6" stroke="#8c8c8c" stroke-width="1.0" />
<line x1="534.5" y1="790" x2="534.5" y2="873.2" stroke="#8c8c8c" stroke-width="1.0" />
<line x1="541.8" y1="790" x2="541.8" y2="899" stroke="#8c8c8c" stroke-width="1.0" />
<line x1="434.3" y1="843.4" x2="476.4" y2="843.4" stroke="#8c8c8c" stroke-width="1.0" />
<path d="M434.30,843.40 L445.30,841.30 L445.30,845.50 Z" fill="#111"/>
<path d="M476.40,843.40 L465.40,845.50 L465.40,841.30 Z" fill="#111"/>
<text x="0" y="0" font-size="15.0" text-anchor="start" transform="translate(448.4 841.8) scale(0.9 1)">77</text>
<line x1="434.3" y1="869.7" x2="534.5" y2="869.7" stroke="#8c8c8c" stroke-width="1.0" />
<path d="M434.30,869.70 L445.30,867.60 L445.30,871.80 Z" fill="#111"/>
<path d="M534.50,869.70 L523.50,871.80 L523.50,867.60 Z" fill="#111"/>
<text x="0" y="0" font-size="15.0" text-anchor="start" transform="translate(474.4 868.1) scale(0.9 1)">185</text>
<line x1="434.3" y1="895.8" x2="541.8" y2="895.8" stroke="#8c8c8c" stroke-width="1.0" />
<path d="M434.30,895.80 L445.30,893.70 L445.30,897.90 Z" fill="#111"/>
<path d="M541.80,895.80 L530.80,897.90 L530.80,893.70 Z" fill="#111"/>
<text x="0" y="0" font-size="15.0" text-anchor="start" transform="translate(477.4 894.0) scale(0.9 1)">197</text>
</svg></body></html>
